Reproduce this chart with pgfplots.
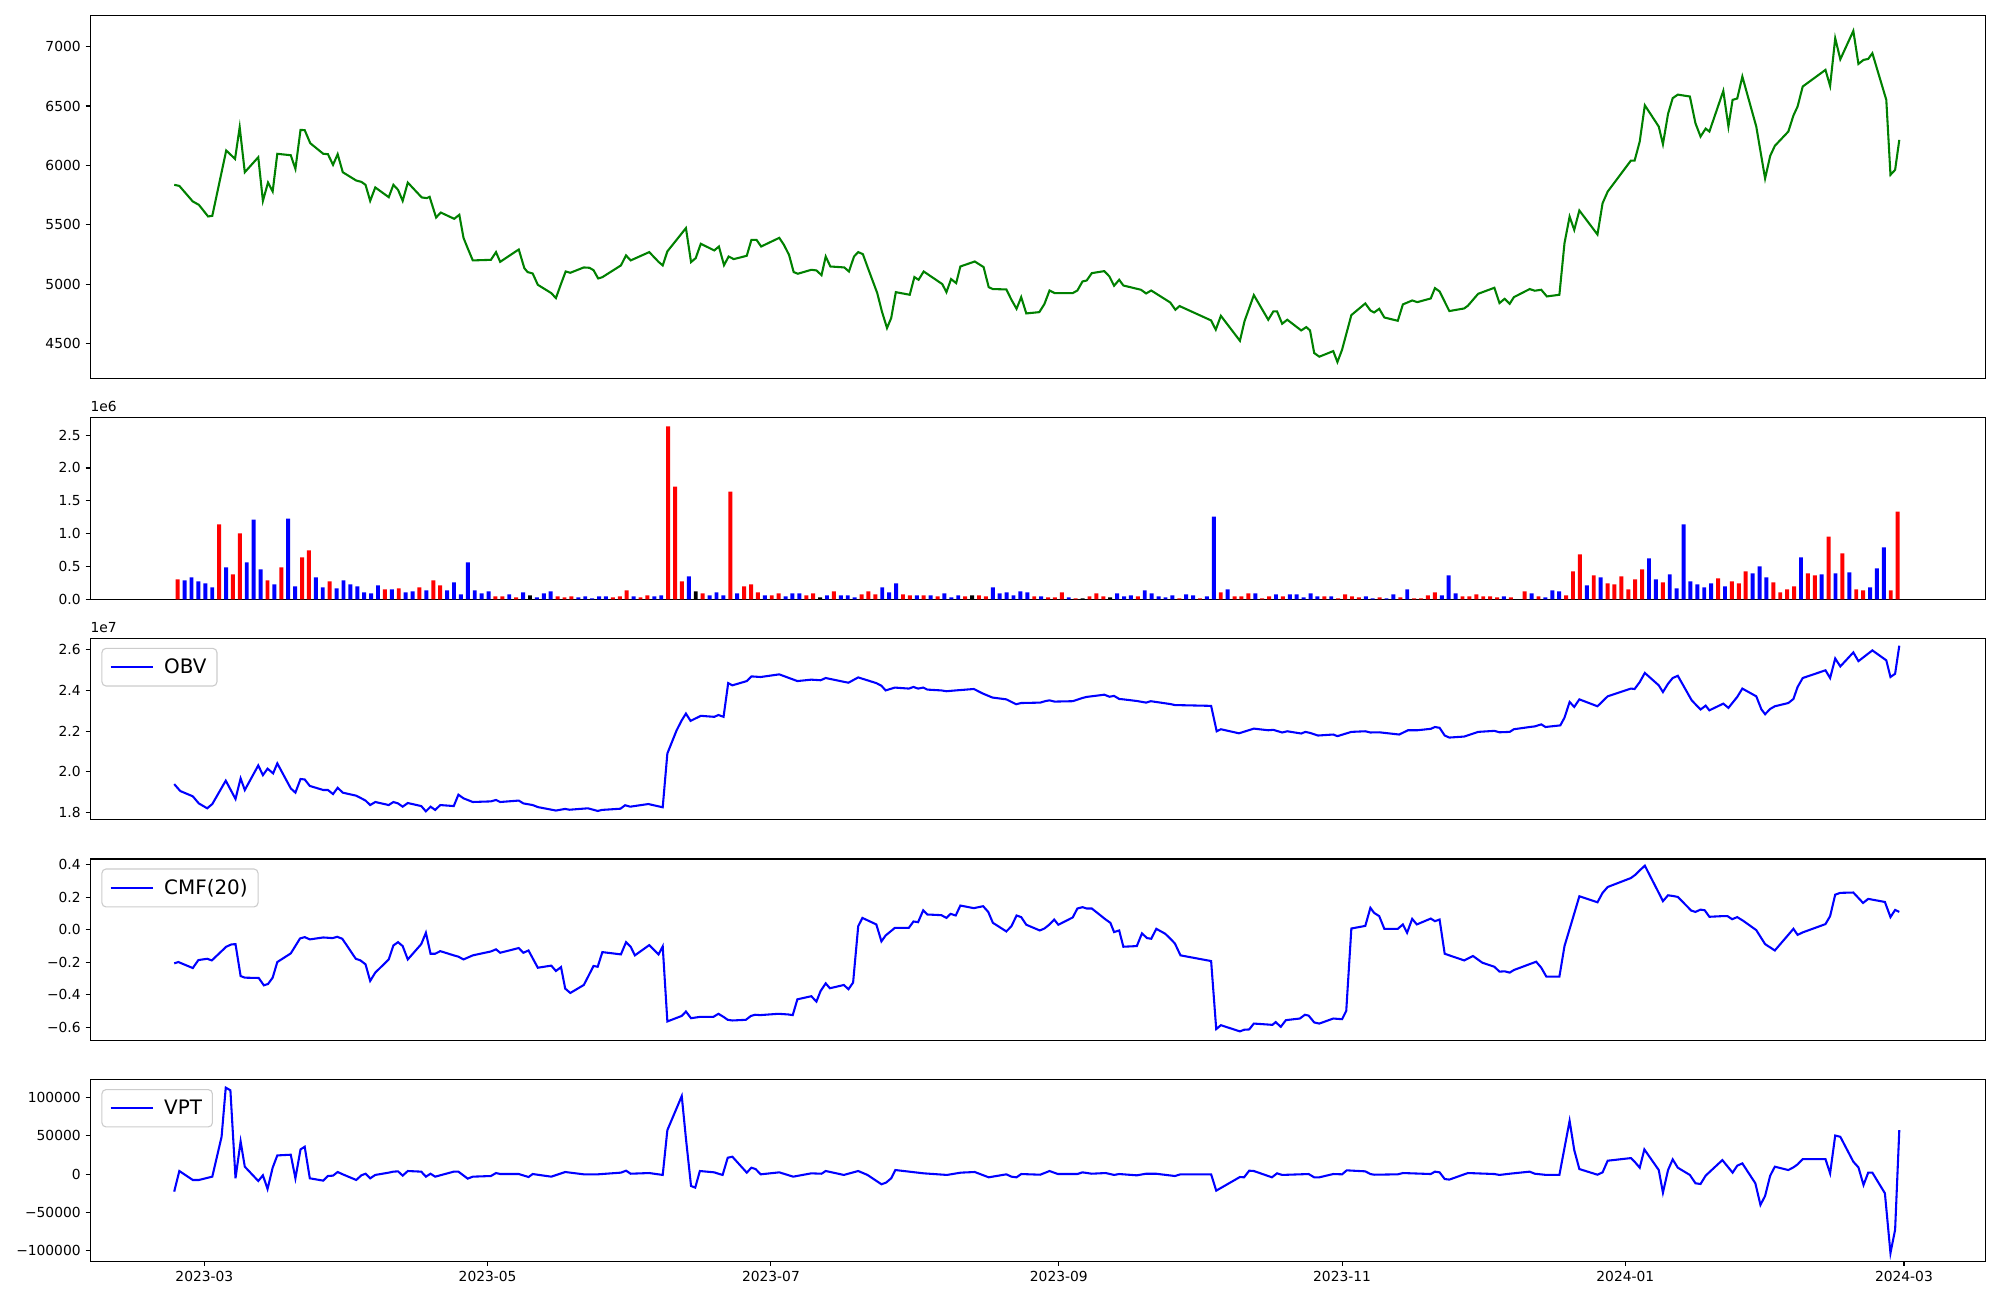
\documentclass[border=0pt]{standalone}
\usepackage{fontspec}
\setmainfont{DejaVu Sans}
\usepackage{pgfplots}
\usepackage{pgfplotstable}
\pgfplotsset{compat=1.18}
\definecolor{mplgreen}{RGB}{0,128,0}

% volume bars: n = bar number (bars are evenly spaced across the date range)
\pgfplotstableread{
n vol
1 .304
7 1.139
9 .380
10 1.002
14 .288
16 .486
19 .638
20 .744
23 .273
31 .152
33 .167
36 .182
38 .288
39 .213
47 .046
48 .046
50 .030
56 .046
57 .030
58 .046
64 .030
65 .046
66 .137
68 .030
69 .061
72 2.632
73 1.716
74 .273
77 .091
81 1.640
83 .197
84 .228
85 .106
87 .061
88 .091
92 .061
93 .091
96 .121
100 .076
101 .121
102 .076
106 .076
107 .061
109 .061
111 .046
115 .046
117 .061
118 .046
125 .046
127 .030
128 .030
129 .106
131 .015
133 .046
134 .091
135 .046
140 .046
146 .015
149 .015
152 .106
154 .046
155 .046
156 .091
158 .015
159 .046
161 .046
167 .046
169 .015
170 .076
171 .046
172 .030
175 .030
178 .030
180 .015
181 .015
182 .061
183 .106
187 .046
188 .046
189 .076
190 .046
191 .046
192 .030
194 .030
196 .121
198 .046
202 .061
203 .425
204 .683
206 .364
208 .243
209 .228
210 .349
211 .152
212 .304
213 .455
216 .258
224 .319
226 .273
227 .243
228 .425
232 .258
233 .106
234 .152
235 .197
237 .395
238 .364
240 .956
242 .698
244 .152
245 .137
249 .137
250 1.336
}\volR

\pgfplotstableread{
n vol
2 .288
3 .334
4 .273
5 .243
6 .182
8 .486
11 .562
12 1.215
13 .455
15 .228
17 1.230
18 .197
21 .334
22 .182
24 .167
25 .288
26 .228
27 .197
28 .106
29 .091
30 .213
32 .152
34 .106
35 .121
37 .137
40 .137
41 .258
42 .076
43 .562
44 .137
45 .091
46 .121
49 .076
51 .106
53 .030
54 .091
55 .121
59 .030
60 .046
61 .015
62 .046
63 .046
67 .046
70 .046
71 .061
75 .349
78 .061
79 .106
80 .061
82 .091
86 .061
89 .046
90 .091
91 .091
95 .061
97 .061
98 .061
99 .030
103 .182
104 .106
105 .243
108 .061
110 .061
112 .091
113 .030
114 .061
119 .182
120 .091
121 .106
122 .061
123 .121
124 .106
126 .046
130 .030
137 .091
138 .046
139 .061
141 .137
142 .091
143 .046
144 .030
145 .061
147 .076
148 .061
150 .046
151 1.260
153 .152
157 .091
160 .076
162 .076
163 .076
164 .030
165 .091
166 .046
168 .046
173 .046
174 .015
176 .015
177 .076
179 .152
184 .061
185 .364
186 .091
193 .046
197 .091
199 .030
200 .137
201 .121
205 .213
207 .334
214 .622
215 .304
217 .380
218 .167
219 1.139
220 .273
221 .228
222 .182
223 .243
225 .197
229 .395
230 .501
231 .334
236 .638
239 .380
241 .395
243 .410
246 .182
247 .471
248 .790
}\volB

\pgfplotstableread{
n vol
52 .061
76 .121
94 .030
116 .061
132 .015
136 .030
}\volK

\pgfplotsset{
  panel/.style={
    scale only axis, width=18.95in, height=1.815in,
    xmin=-24.55, xmax=383.55,
    anchor=north west,
    axis line style={line width=0.8pt},
    tick align=outside, tick pos=left,
    major tick length=3.5pt,
    every tick/.style={black, line width=0.8pt},
    ticklabel style={font=\fontsize{10}{12}\selectfont},
    scaled y ticks=false,
    xtick=\empty,
    clip mode=individual,
    legend cell align=left,
    legend style={at={(0.0058,0.948)}, anchor=north west, draw=black!20,
      line width=0.8pt, rounded corners=3pt, fill=white, fill opacity=0.8,
      text opacity=1, font=\fontsize{14.4}{17}\selectfont,
      inner xsep=5.5pt, inner ysep=5.5pt, column sep=5pt},
    legend image code/.code={\draw[##1, line width=1.5pt] (0pt,0pt) -- (31pt,0pt);},
  },
  volbar/.style={ybar, bar width=0.85, bar shift=0pt, draw=none},
}

\begin{document}
\begin{tikzpicture}[x=1in,y=1in]
\useasboundingbox (0,0) rectangle (20,13);

% ---------- Price ----------
\begin{axis}[panel, at={(0.904in,12.843in)}, height=3.63in,
  ymin=4206, ymax=7260,
  ytick={4500,5000,5500,6000,6500,7000},
  yticklabels={4500,5000,5500,6000,6500,7000}]
\addplot[mplgreen, line width=1.5pt] coordinates {
(-6.5,5837) (-5.4,5828) (-2.5,5697) (-1.2,5669) (0.8,5571) (1.7,5576) (4.7,6126) (6.6,6055) (7.6,6322) (8.7,5943)
(11.6,6069) (12.6,5702) (13.7,5856) (14.7,5781) (15.7,6098) (18.6,6086) (19.6,5971) (20.7,6299) (21.6,6297) (22.8,6187)
(25.6,6098) (26.6,6095) (27.7,6005) (28.7,6095) (29.8,5943) (32.7,5873) (33.8,5862) (34.7,5837) (35.7,5702) (36.8,5815)
(39.7,5733) (40.7,5837) (41.7,5795) (42.7,5702) (43.8,5856) (46.8,5731) (47.9,5725) (48.5,5736) (49.9,5562) (50.9,5604)
(53.8,5551) (54.9,5585) (55.8,5391) (56.6,5313) (57.8,5201) (61.7,5206) (62.8,5271) (63.7,5189) (67.7,5293) (68.9,5136)
(69.6,5103) (70.7,5091) (71.8,4996) (74.7,4926) (75.7,4884) (76.8,5004) (77.8,5108) (78.8,5097) (81.7,5142) (82.9,5139)
(83.8,5119) (84.8,5049) (85.7,5060) (89.7,5159) (90.8,5243) (91.8,5201) (95.8,5271) (97.8,5189) (98.7,5159) (99.7,5277)
(103.7,5473) (104.8,5187) (105.8,5220) (106.9,5341) (109.8,5285) (110.8,5318) (111.9,5161) (112.9,5234) (114.0,5212)
(116.8,5240) (117.8,5374) (118.9,5374) (119.9,5318) (123.8,5391) (124.8,5332) (125.9,5248) (126.9,5103) (127.8,5089)
(130.7,5122) (131.8,5117) (132.9,5077) (133.8,5234) (134.8,5150) (137.8,5142) (138.8,5108) (139.9,5234) (140.8,5271)
(141.8,5254) (142.9,5136) (144.9,4926) (145.9,4772) (147.0,4632) (147.9,4716) (148.9,4934) (151.9,4912) (152.9,5061)
(153.8,5038) (154.9,5108) (158.9,5002) (159.8,4934) (160.8,5044) (161.9,5010) (162.8,5150) (165.9,5192) (167.8,5145)
(168.9,4976) (169.8,4960) (172.7,4957) (173.8,4870) (174.9,4794) (175.9,4892) (177.0,4755) (179.8,4766) (180.9,4834)
(182.0,4948) (183.1,4926) (187.0,4926) (188.0,4948) (189.1,5024) (190.0,5032) (191.1,5094) (193.8,5111) (194.9,5066)
(195.9,4988) (197.0,5038) (197.9,4990) (201.7,4954) (202.8,4923) (203.9,4948) (208.0,4847) (209.1,4786) (210.0,4817)
(216.8,4696) (217.8,4618) (218.9,4735) (223.0,4525) (224.0,4691) (226.0,4909) (229.1,4702) (230.2,4772) (231.0,4772)
(232.1,4668) (233.2,4702) (236.2,4612) (237.3,4640) (238.1,4612) (239.0,4422) (240.1,4391) (243.1,4438) (244.0,4346)
(245.0,4450) (247.0,4741) (250.0,4839) (251.1,4780) (251.9,4763) (253.0,4794) (254.1,4721) (257.0,4693) (258.1,4831)
(260.1,4864) (261.2,4850) (264.1,4881) (265.0,4968) (266.0,4940) (268.1,4775) (271.3,4797) (272.1,4820) (274.3,4920)
(277.8,4971) (278.9,4842) (280.0,4878) (281.1,4836) (282.0,4892) (285.4,4960) (286.5,4946) (287.9,4954) (289.1,4898)
(291.8,4912) (292.9,5346) (294.0,5570) (295.0,5458) (296.1,5621) (300.0,5419) (301.1,5682) (302.2,5780) (307.2,6041)
(308.0,6041) (309.1,6201) (310.2,6506) (313.2,6327) (314.1,6179) (315.2,6434) (316.2,6566) (317.3,6596) (319.9,6580)
(321.1,6355) (322.2,6243) (323.3,6310) (324.1,6285) (327.1,6627) (328.2,6327) (329.1,6552) (330.1,6563) (331.2,6748)
(334.2,6327) (336.1,5890) (337.2,6081) (338.2,6165) (341.1,6285) (342.2,6420) (343.1,6496) (344.2,6664) (349.1,6804)
(350.1,6669) (351.2,7070) (352.3,6893) (355.1,7132) (356.2,6854) (357.3,6888) (358.3,6896) (359.2,6944) (362.2,6552)
(363.1,5921) (364.1,5963) (365.0,6215)
};
\end{axis}

% ---------- Volume ----------
\begin{axis}[panel, at={(0.904in,8.822in)},
  ymin=0, ymax=2.764,
  ytick={0,0.5,1,1.5,2,2.5},
  yticklabels={0.0,0.5,1.0,1.5,2.0,2.5}]
\addplot[volbar, fill=red] table[x expr={-5.75+(\thisrow{n}-1)*1.48755}, y=vol] {\volR};
\addplot[volbar, fill=blue] table[x expr={-5.75+(\thisrow{n}-1)*1.48755}, y=vol] {\volB};
\addplot[volbar, fill=black] table[x expr={-5.75+(\thisrow{n}-1)*1.48755}, y=vol] {\volK};
\node[anchor=south west, inner sep=0pt, font=\fontsize{10}{12}\selectfont] at (rel axis cs:0,1) [yshift=4pt] {1e6};
\end{axis}

% ---------- OBV ----------
\begin{axis}[panel, at={(0.904in,6.616in)},
  ymin=1.763, ymax=2.656,
  ytick={1.8,2.0,2.2,2.4,2.6},
  yticklabels={1.8,2.0,2.2,2.4,2.6}]
\addplot[blue, line width=1.5pt] coordinates {
(-6.5,1.939) (-5.2,1.905) (-2.5,1.879) (-1.2,1.844) (0.6,1.820) (1.7,1.841) (4.6,1.956) (6.7,1.866) (7.8,1.967) (8.7,1.910)
(11.6,2.031) (12.6,1.983) (13.6,2.015) (14.8,1.992) (15.7,2.041) (18.6,1.918) (19.6,1.897) (20.7,1.964) (21.6,1.962) (22.7,1.930)
(25.6,1.910) (26.6,1.910) (27.7,1.890) (28.7,1.921) (29.8,1.897) (32.7,1.882) (33.8,1.869) (34.7,1.858) (35.7,1.836) (36.8,1.851)
(39.7,1.836) (40.7,1.851) (41.7,1.844) (42.7,1.828) (43.8,1.846) (46.7,1.831) (47.7,1.805) (48.7,1.828) (49.7,1.812) (50.8,1.836)
(53.7,1.831) (54.7,1.887) (55.8,1.869) (57.8,1.851) (61.7,1.854) (62.8,1.861) (63.7,1.851) (67.7,1.858) (68.7,1.844) (70.7,1.836)
(71.8,1.826) (75.7,1.809) (77.7,1.817) (78.6,1.813) (82.6,1.820) (84.7,1.807) (85.6,1.812) (89.6,1.818) (90.6,1.835) (91.7,1.828)
(95.6,1.841) (98.7,1.825) (99.7,2.090) (101.7,2.204) (102.8,2.253) (103.7,2.286) (104.7,2.250) (106.9,2.275) (109.8,2.270)
(110.7,2.279) (111.8,2.270) (112.8,2.436) (113.7,2.425) (116.8,2.446) (117.8,2.469) (119.8,2.466) (123.8,2.479) (127.7,2.446)
(130.7,2.453) (132.7,2.450) (133.8,2.461) (138.0,2.441) (138.7,2.438) (140.8,2.464) (144.7,2.436) (145.8,2.423) (146.7,2.400)
(148.7,2.414) (151.7,2.409) (152.7,2.417) (153.7,2.409) (154.8,2.414) (155.7,2.404) (158.7,2.400) (159.8,2.396) (161.8,2.400)
(165.7,2.407) (167.7,2.384) (169.7,2.365) (172.7,2.356) (174.8,2.332) (175.9,2.338) (180.0,2.340) (181.2,2.348) (182.0,2.351)
(183.1,2.345) (187.0,2.347) (189.1,2.363) (190.0,2.368) (193.8,2.379) (194.9,2.369) (195.9,2.373) (197.0,2.358) (197.9,2.356)
(200.8,2.348) (202.8,2.340) (203.8,2.347) (208.0,2.333) (209.0,2.328) (216.8,2.324) (218.0,2.199) (218.9,2.209) (222.8,2.189)
(226.0,2.212) (229.1,2.204) (230.2,2.206) (232.1,2.193) (233.2,2.199) (236.2,2.188) (237.1,2.196) (238.1,2.191) (239.8,2.178)
(243.1,2.183) (244.0,2.175) (247.0,2.196) (250.0,2.199) (251.1,2.193) (253.0,2.194) (257.3,2.183) (259.2,2.204) (261.2,2.204)
(264.1,2.211) (265.0,2.220) (266.0,2.216) (267.1,2.178) (268.1,2.168) (271.3,2.173) (274.3,2.196) (277.8,2.201) (278.9,2.194)
(281.1,2.196) (282.0,2.209) (285.4,2.220) (286.5,2.223) (287.9,2.233) (288.8,2.220) (292.0,2.228) (292.9,2.266) (294.0,2.343)
(295.0,2.319) (296.1,2.356) (300.0,2.322) (302.2,2.371) (307.2,2.409) (308.0,2.407) (309.1,2.441) (310.2,2.486) (313.2,2.425)
(314.1,2.392) (315.2,2.433) (316.2,2.461) (317.3,2.472) (320.3,2.351) (322.2,2.306) (323.3,2.325) (324.1,2.302) (327.1,2.335)
(328.2,2.314) (330.1,2.368) (331.2,2.409) (334.2,2.371) (335.3,2.307) (336.1,2.283) (337.2,2.309) (338.2,2.322) (341.1,2.338)
(342.2,2.358) (343.1,2.417) (344.2,2.461) (349.1,2.499) (350.1,2.461) (351.2,2.557) (352.3,2.518) (355.1,2.587) (356.2,2.544)
(359.2,2.597) (362.2,2.548) (363.1,2.466) (364.1,2.482) (365.0,2.620)
};
\addlegendentry{OBV}
\node[anchor=south west, inner sep=0pt, font=\fontsize{10}{12}\selectfont] at (rel axis cs:0,1) [yshift=4pt] {1e7};
\end{axis}

% ---------- CMF ----------
\begin{axis}[panel, at={(0.904in,4.41in)},
  ymin=-0.680, ymax=0.435,
  ytick={-0.6,-0.4,-0.2,0,0.2,0.4},
  yticklabels={−0.6,−0.4,−0.2,0.0,0.2,0.4}]
\addplot[blue, line width=1.5pt] coordinates {
(-6.5,-0.206) (-5.6,-0.198) (-2.5,-0.235) (-1.3,-0.186) (0.6,-0.178) (1.6,-0.188) (4.7,-0.104) (5.8,-0.090) (6.7,-0.088)
(7.8,-0.284) (8.7,-0.294) (11.7,-0.296) (12.8,-0.341) (13.7,-0.333) (14.7,-0.294) (15.7,-0.198) (18.6,-0.145) (20.6,-0.053)
(21.6,-0.045) (22.7,-0.059) (25.6,-0.047) (27.6,-0.051) (28.6,-0.043) (29.7,-0.055) (32.6,-0.178) (33.6,-0.188) (34.7,-0.212)
(35.7,-0.314) (36.8,-0.263) (39.7,-0.182) (40.7,-0.096) (41.7,-0.076) (42.7,-0.100) (43.8,-0.182) (46.7,-0.088) (47.7,-0.018)
(48.7,-0.147) (49.7,-0.147) (50.8,-0.131) (53.7,-0.157) (54.7,-0.165) (55.8,-0.182) (57.8,-0.157) (61.7,-0.133) (62.8,-0.120)
(63.7,-0.141) (67.7,-0.112) (68.7,-0.141) (69.8,-0.127) (71.8,-0.233) (74.7,-0.220) (75.7,-0.253) (76.8,-0.229) (77.7,-0.361)
(78.8,-0.388) (81.7,-0.339) (82.7,-0.284) (83.8,-0.222) (84.7,-0.227) (85.7,-0.137) (89.7,-0.151) (90.8,-0.076) (91.8,-0.104)
(92.7,-0.157) (95.8,-0.094) (97.8,-0.151) (98.7,-0.102) (99.7,-0.563) (102.8,-0.529) (103.7,-0.502) (104.8,-0.543) (106.7,-0.535)
(109.6,-0.535) (110.7,-0.516) (111.8,-0.535) (112.7,-0.553) (113.7,-0.557) (116.6,-0.553) (117.7,-0.529) (118.6,-0.522)
(119.7,-0.524) (123.6,-0.516) (124.7,-0.518) (125.7,-0.520) (126.7,-0.524) (127.7,-0.427) (130.7,-0.408) (131.8,-0.441)
(132.7,-0.376) (133.8,-0.329) (134.7,-0.359) (137.7,-0.339) (138.7,-0.365) (139.7,-0.324) (140.8,0.022) (141.7,0.073)
(144.7,0.033) (145.8,-0.071) (146.7,-0.035) (148.7,0.012) (151.7,0.012) (152.7,0.051) (153.7,0.047) (154.8,0.120) (155.7,0.094)
(158.7,0.090) (159.8,0.073) (160.7,0.098) (161.8,0.088) (162.8,0.149) (165.7,0.133) (167.7,0.145) (168.8,0.110) (169.8,0.043)
(172.7,-0.010) (173.8,0.022) (174.9,0.088) (175.9,0.078) (177.0,0.031) (179.9,-0.004) (180.9,0.008) (182.0,0.033) (183.0,0.063)
(183.9,0.031) (187.0,0.076) (188.0,0.131) (189.1,0.139) (190.0,0.131) (191.1,0.131) (194.1,0.063) (195.1,0.043) (195.9,-0.014)
(197.0,-0.004) (197.9,-0.104) (200.8,-0.100) (201.9,-0.022) (203.0,-0.051) (203.9,-0.055) (205.0,0.006) (206.9,-0.024)
(207.9,-0.051) (209.0,-0.084) (210.2,-0.157) (216.8,-0.192) (217.9,-0.610) (218.9,-0.586) (223.0,-0.624) (223.9,-0.614)
(225.0,-0.612) (226.0,-0.576) (229.1,-0.582) (230.0,-0.584) (230.7,-0.567) (231.8,-0.596) (232.9,-0.555) (235.9,-0.545)
(237.0,-0.522) (237.8,-0.527) (239.0,-0.569) (240.1,-0.576) (243.1,-0.545) (244.0,-0.547) (245.0,-0.549) (245.9,-0.498)
(247.0,0.008) (250.0,0.024) (251.1,0.135) (251.9,0.104) (253.0,0.084) (254.1,0.006) (257.0,0.006) (258.1,0.033) (259.0,-0.018)
(260.1,0.067) (261.1,0.033) (264.1,0.069) (265.0,0.053) (266.0,0.063) (267.1,-0.147) (268.1,-0.157) (271.3,-0.188) (273.2,-0.161)
(275.2,-0.202) (277.8,-0.227) (278.9,-0.257) (280.0,-0.255) (281.1,-0.263) (282.0,-0.247) (286.8,-0.196) (287.9,-0.233)
(289.0,-0.288) (291.8,-0.288) (292.9,-0.100) (294.3,0.033) (296.1,0.206) (300.0,0.169) (301.1,0.227) (302.2,0.263) (307.2,0.318)
(308.2,0.339) (309.1,0.365) (310.2,0.394) (313.2,0.227) (314.1,0.176) (315.2,0.212) (316.2,0.208) (317.3,0.202) (320.2,0.118)
(321.1,0.110) (322.2,0.124) (323.1,0.120) (324.1,0.080) (326.9,0.084) (328.0,0.084) (329.0,0.065) (330.1,0.078) (331.4,0.055)
(334.2,-0.002) (336.1,-0.088) (338.2,-0.127) (342.2,0.006) (343.1,-0.031) (344.2,-0.016) (349.1,0.035) (350.1,0.084)
(351.2,0.216) (352.3,0.227) (355.1,0.229) (357.2,0.165) (358.3,0.190) (361.9,0.171) (363.1,0.078) (364.1,0.122) (365.0,0.110)
};
\addlegendentry{CMF(20)}
\end{axis}

% ---------- VPT ----------
\begin{axis}[panel, at={(0.904in,2.204in)},
  ymin=-113500, ymax=123500,
  ytick={-100000,-50000,0,50000,100000},
  yticklabels={−100000,−50000,0,50000,100000},
  xtick={0,61,122,184,245,306,366},
  xticklabels={2023-03,2023-05,2023-07,2023-09,2023-11,2024-01,2024-03}]
\addplot[blue, line width=1.5pt] coordinates {
(-6.5,-22770) (-5.4,4130) (-2.5,-7580) (-1.2,-7580) (1.7,-3250) (3.7,48800) (4.6,113000) (5.6,109500) (6.7,-5400) (7.8,42700)
(8.7,9770) (11.6,-8880) (12.6,-1500) (13.6,-19300) (14.7,8470) (15.7,24500) (18.6,25400) (19.6,-5400) (20.7,32300) (21.6,35800)
(22.7,-5400) (25.6,-8450) (26.6,-2400) (27.7,-1900) (28.7,2830) (29.8,-200) (32.7,-7580) (33.8,-1500) (34.7,600) (35.7,-5400)
(36.8,-1000) (39.7,2000) (40.7,3300) (41.7,3700) (42.7,-1900) (43.8,4130) (46.7,3300) (47.7,-3250) (48.7,600) (49.7,-3250)
(53.7,3300) (54.7,3300) (56.7,-5800) (57.8,-3250) (61.7,-2400) (62.8,1500) (63.7,200) (67.7,200) (69.8,-3700) (70.7,200)
(74.7,-3250) (77.7,2830) (81.7,-200) (84.7,-200) (89.7,2000) (90.8,4560) (91.8,600) (95.8,1500) (98.7,-1000) (99.7,57500)
(102.8,102000) (103.7,46600) (104.8,-15400) (105.7,-17600) (106.7,4130) (109.8,2400) (110.7,600) (111.6,-1000) (112.7,21500)
(113.7,22800) (116.8,2000) (117.8,8470) (118.7,6700) (119.8,-200) (123.8,2400) (126.8,-3250) (130.7,1100) (132.9,600)
(133.8,4130) (134.8,2830) (137.7,-1000) (140.8,4130) (142.8,-1000) (145.8,-13200) (146.8,-11000) (147.9,-5400) (148.8,5400)
(154.9,1100) (159.9,-1000) (162.9,2000) (165.9,2830) (168.9,-4100) (172.7,-200) (173.8,-3250) (174.9,-4100) (175.9,200)
(180.0,-700) (182.0,4130) (183.8,200) (188.0,200) (189.1,2400) (191.1,600) (194.1,1500) (195.9,-1000) (197.0,200) (200.8,-1500)
(202.8,600) (204.9,600) (209.0,-2400) (210.2,-200) (216.8,-200) (217.9,-21500) (223.0,-3700) (223.9,-4100) (225.0,4560)
(226.0,4130) (229.9,-4100) (231.0,1100) (232.1,-1000) (237.8,200) (239.0,-4100) (240.1,-4100) (243.1,200) (245.0,-200)
(246.0,5000) (250.0,3700) (251.1,200) (251.9,-700) (257.0,-200) (258.1,1500) (264.1,200) (265.0,3300) (266.0,2400) (267.1,-6300)
(268.1,-7100) (271.3,-200) (272.1,1500) (277.8,200) (278.9,-1000) (281.1,600) (285.4,3300) (286.5,600) (289.0,-1000)
(291.8,-1000) (294.0,69600) (295.0,31500) (296.1,6700) (300.0,-700) (301.1,2400) (302.2,17600) (307.2,21000) (308.0,16300)
(309.1,8470) (310.1,32300) (313.2,5400) (314.1,-24100) (315.2,5400) (316.2,19300) (317.3,8470) (319.9,-1000) (321.1,-11900)
(322.2,-12800) (323.3,-1900) (326.9,18400) (329.1,2000) (330.1,11100) (331.2,14100) (334.0,-11900) (335.1,-40100) (336.1,-28400)
(337.2,-1900) (338.2,9800) (341.1,5400) (342.2,8900) (343.1,12800) (344.2,19700) (349.1,19700) (350.1,1100) (351.2,50500)
(352.3,48800) (355.1,16300) (356.2,8900) (357.3,-14100) (358.3,2000) (359.2,2000) (361.9,-24900) (363.1,-103000) (364.1,-72600)
(365.0,57500)
};
\addlegendentry{VPT}
\end{axis}
\end{tikzpicture}
\end{document}
